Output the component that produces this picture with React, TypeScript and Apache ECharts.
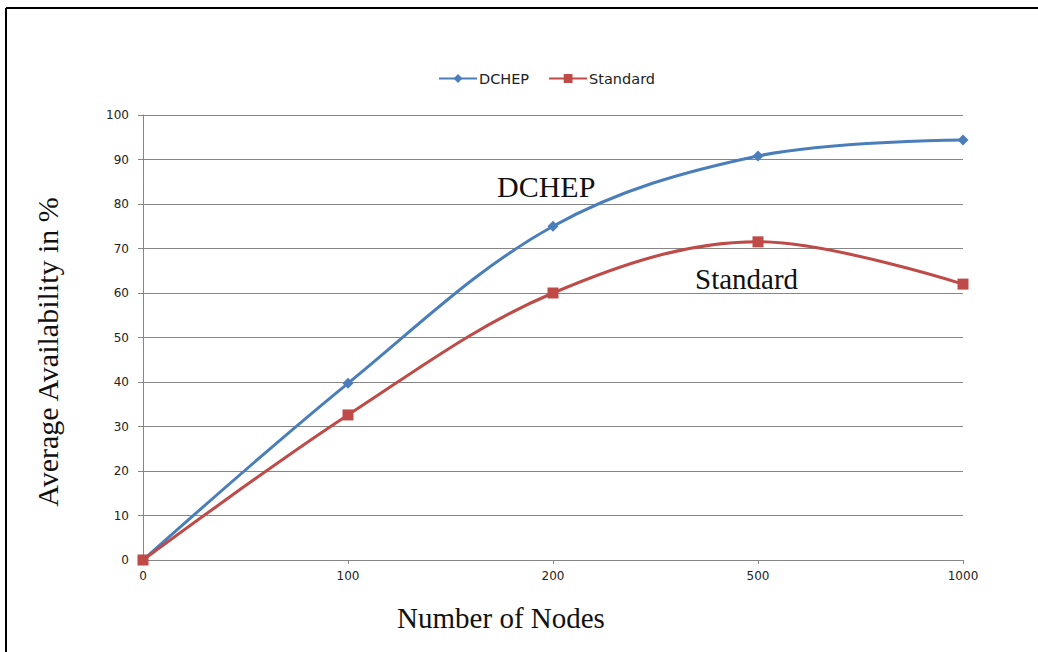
import React, { useEffect, useRef } from "react";
import * as echarts from "echarts";

const categories = ["0", "100", "200", "500", "1000"];
const dchepValues = [0, 39.7, 75, 90.8, 94.4];
const standardValues = [0, 32.6, 60, 71.5, 62];
const yTicks = { min: 0, max: 100, interval: 10 };

export default function App() {
  const ref = useRef<HTMLDivElement>(null);
  useEffect(() => {
    const chart = echarts.init(ref.current!, null, { renderer: "svg" });
    const tickFont = "'DejaVu Sans', Verdana, sans-serif";
    const serif = "'Liberation Serif', 'Times New Roman', serif";
    chart.setOption({
      animation: false,
      backgroundColor: "#ffffff",
      legend: {
        top: 66,
        left: 433,
        itemWidth: 38,
        itemHeight: 11,
        itemGap: 19,
        textStyle: { fontFamily: tickFont, fontSize: 14.5, color: "#222", padding: [0, 0, 0, -3] },
        data: ["DCHEP", "Standard"],
      },
      grid: { left: 143, right: 75, top: 115, bottom: 92 },
      xAxis: {
        type: "category",
        data: categories,
        boundaryGap: false,
        axisLine: { lineStyle: { color: "#868686", width: 1 } },
        axisTick: { show: true, alignWithLabel: true, length: 4, lineStyle: { color: "#868686" } },
        axisLabel: { fontFamily: tickFont, fontSize: 12, color: "#222", margin: 10 },
        splitLine: { show: false },
      },
      yAxis: {
        type: "value",
        min: yTicks.min,
        max: yTicks.max,
        interval: yTicks.interval,
        axisLine: { show: true, lineStyle: { color: "#868686", width: 1 } },
        axisTick: { show: true, length: 5, lineStyle: { color: "#868686" } },
        axisLabel: { fontFamily: tickFont, fontSize: 12, color: "#222", margin: 14 },
        splitLine: { lineStyle: { color: "#868686", width: 1 } },
      },
      series: [
        {
          name: "DCHEP",
          type: "line",
          data: dchepValues,
          smooth: 0.35,
          symbol: "diamond",
          symbolSize: 11,
          lineStyle: { color: "#4A7EBB", width: 3 },
          itemStyle: { color: "#4A7EBB" },
          z: 3,
        },
        {
          name: "Standard",
          type: "line",
          data: standardValues,
          smooth: 0.35,
          symbol: "rect",
          symbolSize: 11,
          lineStyle: { color: "#BE4B48", width: 3 },
          itemStyle: { color: "#BE4B48" },
          z: 4,
        },
      ],
      graphic: [
        { type: "line", shape: { x1: 6, y1: 8, x2: 1038, y2: 8 }, style: { stroke: "#000", lineWidth: 2 } },
        { type: "line", shape: { x1: 6, y1: 8, x2: 6, y2: 652 }, style: { stroke: "#000", lineWidth: 2 } },
        {
          type: "text",
          x: 501,
          y: 618,
          style: { text: "Number of Nodes", font: `29px ${serif}`, fill: "#111", align: "center", verticalAlign: "middle" },
        },
        {
          type: "text",
          x: 47,
          y: 352,
          rotation: Math.PI / 2,
          style: { text: "Average Availability in %", font: `30px ${serif}`, fill: "#111", align: "center", verticalAlign: "middle" },
        },
        {
          type: "text",
          x: 497,
          y: 186,
          style: { text: "DCHEP", font: `30px ${serif}`, fill: "#111", verticalAlign: "middle" },
        },
        {
          type: "text",
          x: 695,
          y: 279,
          style: { text: "Standard", font: `29px ${serif}`, fill: "#111", verticalAlign: "middle" },
        },
      ],
    });
    return () => chart.dispose();
  }, []);
  return (
    <div
      ref={ref}
      style={{ position: "absolute", left: 0, top: 0, width: 1038, height: 652 }}
    />
  );
}
